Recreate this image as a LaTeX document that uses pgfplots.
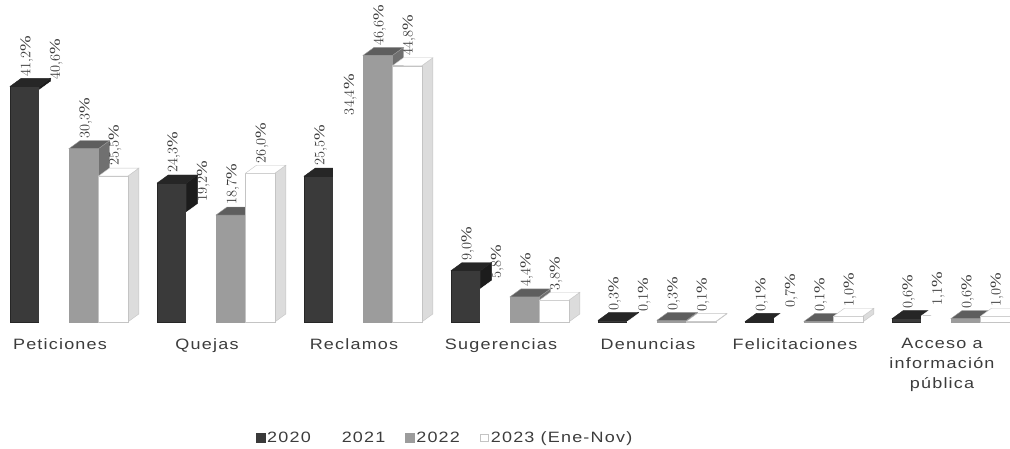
\documentclass[border=0pt]{standalone}
\usepackage{pgfplots}
\usepackage{pgfplotstable}
\usepackage{fontspec}
\pgfplotsset{compat=1.18}

\newfontfamily\catfont[FakeStretch=1.2,LetterSpace=8]{Liberation Sans}
\newfontfamily\valfont[FakeStretch=1.25]{Liberation Serif}

\definecolor{cA}{HTML}{3A3A3A}
\definecolor{cAtop}{HTML}{262626}
\definecolor{cAside}{HTML}{1C1C1C}
\definecolor{cC}{HTML}{9C9C9C}
\definecolor{cCtop}{HTML}{5E5E5E}
\definecolor{cCside}{HTML}{707070}
\definecolor{cDedge}{HTML}{C4C4C4}
\definecolor{cDside}{HTML}{DCDCDC}
\definecolor{txt}{HTML}{3C3C3C}

% y unit (pt per percentage point), half column width and depth of the 3-D faces
\def\yu{5.72}
\def\hw{14.7}
\def\dx{11}
\def\dy{8}

% a whole column: front, side and top faces; the mark sits on the front top edge
% #1 front, #2 top, #3 side, #4 edge colour
\newcommand\boxfaces[4]{%
  \pgfmathsetmacro\bh{\barval*\yu}%
  \pgfsetlinewidth{0.4pt}%
  \pgfsetstrokecolor{#4}%
  % side
  \pgfsetfillcolor{#3}%
  \pgfpathmoveto{\pgfpoint{\hw pt}{0pt}}%
  \pgfpathlineto{\pgfpoint{\hw pt+\dx pt}{\dy pt}}%
  \pgfpathlineto{\pgfpoint{\hw pt+\dx pt}{\dy pt-\bh pt}}%
  \pgfpathlineto{\pgfpoint{\hw pt}{-\bh pt}}%
  \pgfpathclose
  \pgfusepath{fill,stroke}%
  % front
  \pgfsetfillcolor{#1}%
  \pgfpathrectanglecorners{\pgfpoint{-\hw pt}{-\bh pt}}{\pgfpoint{\hw pt}{0pt}}%
  \pgfusepath{fill,stroke}%
  % top
  \pgfsetfillcolor{#2}%
  \pgfpathmoveto{\pgfpoint{-\hw pt}{0pt}}%
  \pgfpathlineto{\pgfpoint{\hw pt}{0pt}}%
  \pgfpathlineto{\pgfpoint{\hw pt+\dx pt}{\dy pt}}%
  \pgfpathlineto{\pgfpoint{-\hw pt+\dx pt}{\dy pt}}%
  \pgfpathclose
  \pgfusepath{fill,stroke}%
}
\pgfdeclareplotmark{boxA}{\boxfaces{cA}{cAtop}{cAside}{cAtop}}
\pgfdeclareplotmark{boxB}{\boxfaces{white}{white}{white}{white}}
\pgfdeclareplotmark{boxC}{\boxfaces{cC}{cCtop}{cCside}{cC}}
\pgfdeclareplotmark{boxD}{\boxfaces{white}{white}{cDside}{cDedge}}

% shares by category (%)
\pgfplotstableread{
idx y2020 y2021 y2022 y2023
0   41.2  40.6  30.3  25.5
1   24.3  19.2  18.7  26.0
2   25.5  34.4  46.6  44.8
3   9.0   5.8   4.4   3.8
4   0.3   0.1   0.3   0.1
5   0.1   0.7   0.1   1.0
6   0.6   1.1   0.6   1.0
}\shares

\pgfplotsset{
  column/.style n args={3}{only marks, mark=#1,
    visualization depends on={rawy\as\barval},
    point meta=y,
    nodes near coords={\pgfmathprintnumber[fixed,fixed zerofill,precision=1,use comma]{\pgfplotspointmeta}\%},
    every node near coord/.append style={font=\valfont\fontsize{15}{16}\selectfont, text=txt,
      anchor=west, rotate=90, xshift=\dy pt+1pt, yshift=-2pt, inner sep=1pt},
    legend image code/.code={\fill[#2] (0pt,-4.5pt) rectangle (8.5pt,4pt);
      \draw[#3, line width=0.6pt] (0.3pt,-4.2pt) rectangle (8.2pt,3.7pt);}},
}

\begin{document}
\begin{tikzpicture}
\useasboundingbox (-69pt,-127pt) rectangle (941pt,322pt);
\begin{axis}[
  anchor=origin, at={(0pt,0pt)},
  x=147pt, y=\yu pt,
  xmin=-0.47, xmax=6.55, ymin=0, ymax=50,
  clip=false,
  axis line style={draw=none},
  major tick style={draw=none},
  ytick=\empty,
  xtick={0,...,6},
  xticklabels={Peticiones,Quejas,Reclamos,Sugerencias,Denuncias,Felicitaciones,{Acceso a\\información\\pública}},
  xticklabel style={font=\catfont\fontsize{15}{20}\selectfont, text=txt, align=center,
    yshift=-13pt, xshift=-9pt},
  legend columns=4,
  legend style={draw=none, fill=none, at={(axis cs:2.56,-20.2)}, anchor=center,
    font=\catfont\fontsize{15}{16}\selectfont, text=txt,
    /tikz/every even column/.append style={column sep=18pt}},
]
\addplot[column={boxA}{cA}{cA}] table[x expr=\thisrow{idx}-0.3, y=y2020] {\shares};
\addlegendentry{2020}
\addplot[column={boxB}{white}{white}] table[x expr=\thisrow{idx}-0.1, y=y2021] {\shares};
\addlegendentry{2021}
\addplot[column={boxC}{cC}{cC}] table[x expr=\thisrow{idx}+0.1, y=y2022] {\shares};
\addlegendentry{2022}
\addplot[column={boxD}{white}{cDedge}] table[x expr=\thisrow{idx}+0.3, y=y2023] {\shares};
\addlegendentry{2023 (Ene-Nov)}
\end{axis}
\end{tikzpicture}
\end{document}
